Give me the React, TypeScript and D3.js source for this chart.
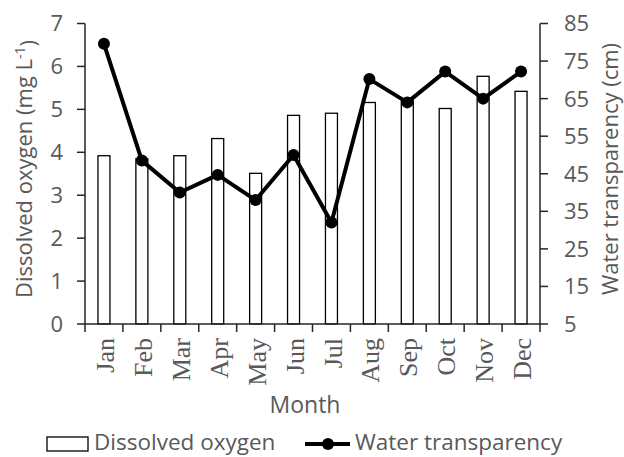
import React from "react";
import * as d3 from "d3";

const months = ["Jan", "Feb", "Mar", "Apr", "May", "Jun", "Jul", "Aug", "Sep", "Oct", "Nov", "Dec"];
const dissolvedOxygen = [3.92, 3.85, 3.92, 4.32, 3.51, 4.86, 4.91, 5.16, 5.22, 5.02, 5.77, 5.42];
const waterTransparency = [79.6, 48.5, 40.0, 44.7, 38.0, 50.0, 32.0, 70.2, 64.0, 72.2, 65.0, 72.2];
const leftTicks = [0, 1, 2, 3, 4, 5, 6, 7];
const rightTicks = [5, 15, 25, 35, 45, 55, 65, 75, 85];

const W = 624;
const H = 457;
const left = 85;
const right = 540;
const top = 23.5;
const bottom = 324;
const grey = "#595959";
const sans = "'Open Sans', sans-serif";
const serif = "'Liberation Serif', serif";

export default function App() {
  const x = d3.scaleBand<string>().domain(months).range([left, right]).paddingInner(0).paddingOuter(0);
  const yL = d3.scaleLinear().domain([0, 7]).range([bottom, top]);
  const yR = d3.scaleLinear().domain([5, 85]).range([bottom, top]);
  const bw = 12;
  const cx = (m: string) => (x(m) as number) + x.bandwidth() / 2;
  const line = d3
    .line<number>()
    .x((_, i) => cx(months[i]))
    .y((d) => yR(d));
  const boundaries = d3.range(months.length + 1).map((i) => left + i * x.bandwidth());

  return (
    <svg width={W} height={H} style={{ position: "absolute", left: 0, top: 0, background: "#fff" }}>
      {/* bars */}
      {dissolvedOxygen.map((v, i) => (
        <rect
          key={"b" + i}
          x={cx(months[i]) - bw / 2}
          y={yL(v)}
          width={bw}
          height={bottom - yL(v)}
          fill="#fff"
          stroke="#000"
          strokeWidth={1.3}
        />
      ))}
      {/* axes */}
      <line x1={left} x2={left} y1={top} y2={bottom} stroke="#262626" strokeWidth={1.5} />
      <line x1={right} x2={right} y1={top} y2={bottom} stroke="#262626" strokeWidth={1.5} />
      <line x1={left} x2={right} y1={bottom} y2={bottom} stroke="#262626" strokeWidth={1.5} />
      {leftTicks.map((t) => (
        <g key={"l" + t}>
          <line x1={left - 8} x2={left} y1={yL(t)} y2={yL(t)} stroke="#262626" strokeWidth={1.5} />
          <text x={left - 22} y={yL(t)} dy="0.36em" textAnchor="end" fontFamily={sans} fontSize={22} fill={grey}>
            {t}
          </text>
        </g>
      ))}
      {rightTicks.map((t) => (
        <g key={"r" + t}>
          <line x1={right} x2={right + 8} y1={yR(t)} y2={yR(t)} stroke="#262626" strokeWidth={1.5} />
          <text x={right + 24} y={yR(t)} dy="0.36em" textAnchor="start" fontFamily={sans} fontSize={22} fill={grey}>
            {t}
          </text>
        </g>
      ))}
      {boundaries.map((b, i) => (
        <line key={"x" + i} x1={b} x2={b} y1={bottom} y2={bottom + 8} stroke="#262626" strokeWidth={1.5} />
      ))}
      {months.map((m) => (
        <text
          key={"m" + m}
          transform={`translate(${cx(m) + 1},${bottom + 14}) rotate(-90)`}
          dy="0.35em"
          textAnchor="end"
          fontFamily={serif}
          fontSize={26}
          fill={grey}
        >
          {m}
        </text>
      ))}
      {/* line */}
      <path d={line(waterTransparency) || ""} fill="none" stroke="#000" strokeWidth={4} strokeLinejoin="round" />
      {waterTransparency.map((v, i) => (
        <circle key={"c" + i} cx={cx(months[i])} cy={yR(v)} r={6} fill="#000" />
      ))}
      {/* titles */}
      <text
        transform={`translate(24,169) rotate(-90)`}
        dy="0.35em"
        textAnchor="middle"
        fontFamily={sans}
        fontSize={22}
        fill={grey}
      >
        Dissolved oxygen (mg L
        <tspan dy="-0.5em" fontSize={14}>-1</tspan>
        <tspan dy="0.5em">)</tspan>
      </text>
      <text
        transform={`translate(610,169) rotate(-90)`}
        dy="0.35em"
        textAnchor="middle"
        fontFamily={sans}
        fontSize={22}
        fill={grey}
      >
        Water transparency (cm)
      </text>
      <text x={305} y={413} textAnchor="middle" fontFamily={sans} fontSize={23} fill={grey}>
        Month
      </text>
      {/* legend */}
      <rect x={47} y={437} width={41} height={14} fill="#fff" stroke="#000" strokeWidth={1.3} />
      <text x={94} y={450} fontFamily={sans} fontSize={22.5} fill={grey}>
        Dissolved oxygen
      </text>
      <line x1={305} x2={350} y1={444} y2={444} stroke="#000" strokeWidth={4} />
      <circle cx={328} cy={444} r={6} fill="#000" />
      <text x={355} y={450} fontFamily={sans} fontSize={22.5} fill={grey}>
        Water transparency
      </text>
    </svg>
  );
}
